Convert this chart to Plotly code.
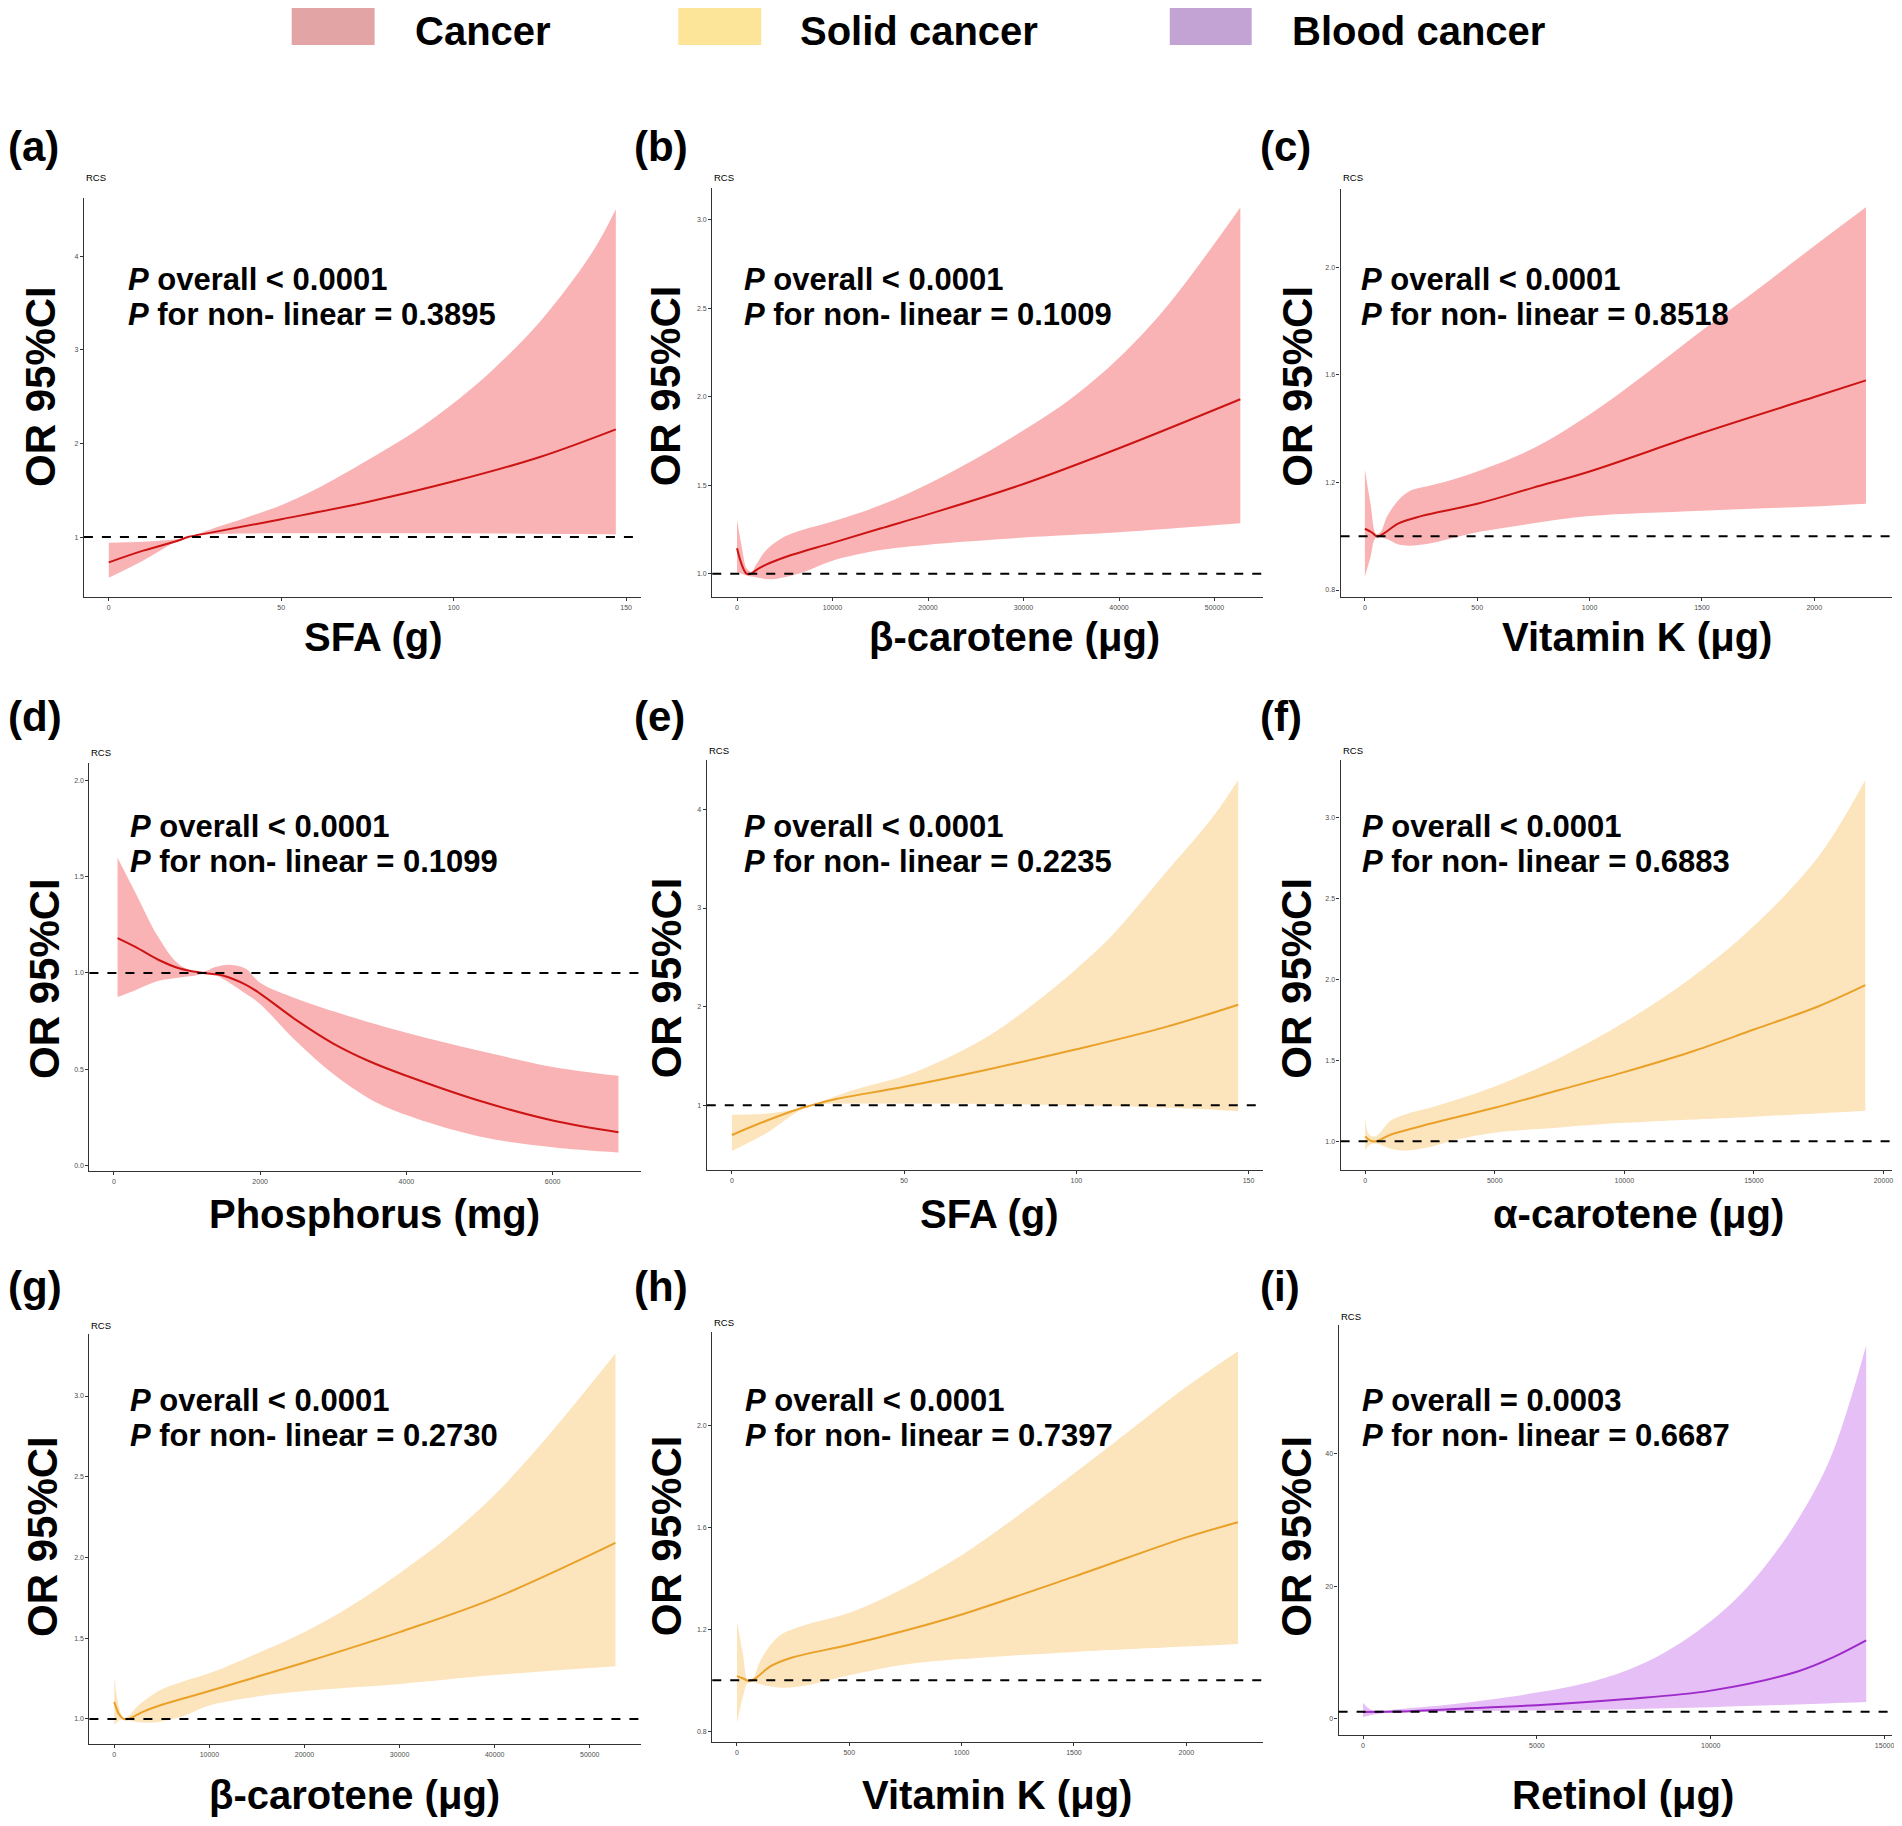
import plotly.graph_objects as go

W, H = 1902, 1826
OFF = 8  # the page body adds an 8px margin; shift the drawing back by it

# legend groups
groups = ["Cancer", "Solid cancer", "Blood cancer"]
legend_colors = ["#E3A4A6", "#FCE598", "#C3A3D4"]
band_colors = ["#F9B3B4", "#FCE4BD", "#E5BFF6"]
line_colors = ["#CC1414", "#E9A128", "#9E2BC9"]

# (a) SFA, cancer
a_x = [0, 10, 20, 23, 30, 50, 75, 100, 125, 147]
a_or = [0.73, 0.855, 0.96, 1.0, 1.05, 1.19, 1.375, 1.595, 1.855, 2.15]
a_hi_x = [0, 10, 20, 23, 30, 40, 50, 60, 75, 90, 100, 110, 125, 140, 147]
a_hi = [0.94, 0.95, 0.98, 1.0, 1.09, 1.21, 1.34, 1.51, 1.82, 2.16, 2.43, 2.74, 3.30, 4.03, 4.50]
a_lo_x = [0, 10, 20, 23, 30, 50, 100, 147]
a_lo = [0.565, 0.75, 0.96, 1.0, 1.03, 1.04, 1.04, 1.03]

# (b) beta-carotene, cancer
b_x = [0, 500, 1000, 1500, 2000, 3000, 5000, 10000, 15000, 20000, 30000, 40000, 52700]
b_or = [1.143, 1.05, 1.0, 1.0, 1.02, 1.05, 1.093, 1.174, 1.255, 1.335, 1.507, 1.709, 1.986]
b_hi_x = [0, 500, 1000, 1500, 2000, 3000, 5000, 7000, 10000, 15000, 20000, 25000, 30000, 35000, 40000, 45000, 52700]
b_hi = [1.305, 1.15, 1.03, 1.01, 1.05, 1.13, 1.21, 1.25, 1.295, 1.386, 1.507, 1.65, 1.81, 1.99, 2.22, 2.51, 3.07]
b_lo_x = [0, 500, 1000, 2000, 3000, 4000, 5000, 7000, 10000, 15000, 20000, 30000, 40000, 52700]
b_lo = [1.01, 1.0, 0.99, 0.98, 0.97, 0.97, 0.98, 1.01, 1.073, 1.133, 1.164, 1.204, 1.234, 1.285]

# (c) vitamin K, cancer
c_x = [0, 30, 55, 80, 150, 250, 500, 750, 1000, 1500, 2000, 2230]
c_or = [1.028, 1.015, 0.999, 1.008, 1.048, 1.075, 1.121, 1.181, 1.241, 1.384, 1.518, 1.58]
c_hi_x = [0, 25, 50, 70, 100, 150, 200, 250, 350, 500, 750, 1000, 1250, 1500, 1750, 2000, 2230]
c_hi = [1.248, 1.121, 1.009, 1.016, 1.075, 1.135, 1.168, 1.181, 1.201, 1.241, 1.327, 1.453, 1.605, 1.766, 1.92, 2.08, 2.224]
c_lo_x = [0, 25, 50, 100, 150, 200, 300, 400, 500, 750, 1000, 1500, 2000, 2230]
c_lo = [0.849, 0.922, 0.995, 0.989, 0.969, 0.965, 0.975, 0.995, 1.015, 1.048, 1.075, 1.095, 1.111, 1.121]

# (d) phosphorus, cancer
d_x = [50, 300, 600, 900, 1200, 1500, 1800, 2000, 2500, 3000, 3500, 4000, 5000, 6000, 6900]
d_or = [1.181, 1.134, 1.07, 1.023, 1.001, 0.986, 0.94, 0.893, 0.754, 0.634, 0.541, 0.467, 0.337, 0.235, 0.174]
d_hi_x = [50, 300, 600, 900, 1200, 1400, 1600, 1800, 2000, 2500, 3000, 4000, 5000, 6000, 6900]
d_hi = [1.598, 1.412, 1.19, 1.042, 1.006, 1.032, 1.042, 1.023, 0.949, 0.866, 0.801, 0.69, 0.597, 0.513, 0.467]
d_lo_x = [50, 300, 600, 900, 1100, 1300, 1500, 1800, 2000, 2500, 3000, 3500, 4000, 5000, 6000, 6900]
d_lo = [0.875, 0.912, 0.958, 0.977, 0.986, 1.0, 0.968, 0.893, 0.838, 0.643, 0.476, 0.347, 0.263, 0.152, 0.096, 0.069]

# (e) SFA, solid cancer
e_x = [0, 10, 20, 23, 30, 50, 75, 100, 125, 147]
e_or = [0.70, 0.844, 0.971, 1.0, 1.062, 1.188, 1.369, 1.568, 1.785, 2.02]
e_hi_x = [0, 10, 20, 25, 35, 50, 60, 75, 90, 100, 110, 125, 140, 147]
e_hi = [0.906, 0.917, 0.971, 1.025, 1.152, 1.297, 1.44, 1.713, 2.093, 2.383, 2.708, 3.32, 3.94, 4.30]
e_lo_x = [0, 10, 20, 25, 40, 75, 100, 125, 147]
e_lo = [0.537, 0.718, 0.953, 1.007, 1.018, 1.014, 1.0, 0.978, 0.942]

# (f) alpha-carotene, solid cancer
f_x = [0, 200, 400, 1000, 2500, 5000, 7500, 10000, 12500, 15000, 17500, 19300]
f_or = [1.031, 1.004, 1.0, 1.042, 1.108, 1.207, 1.317, 1.427, 1.548, 1.69, 1.834, 1.964]
f_hi_x = [0, 150, 400, 1000, 1700, 2500, 5000, 7500, 10000, 12500, 15000, 17500, 19300]
f_hi = [1.141, 1.042, 1.031, 1.13, 1.174, 1.207, 1.339, 1.515, 1.735, 1.999, 2.329, 2.76, 3.231]
f_lo_x = [0, 150, 400, 1000, 1500, 2500, 3500, 5000, 7500, 10000, 15000, 19300]
f_lo = [0.943, 0.976, 0.987, 0.954, 0.943, 0.965, 1.009, 1.053, 1.086, 1.114, 1.152, 1.189]

# (g) beta-carotene, solid cancer
g_x = [0, 500, 1000, 1500, 2000, 3000, 5000, 10000, 15000, 20000, 30000, 40000, 52700]
g_or = [1.106, 1.029, 1.0, 1.0, 1.013, 1.044, 1.088, 1.173, 1.261, 1.35, 1.538, 1.748, 2.09]
g_hi_x = [0, 500, 1000, 1500, 2000, 3000, 5000, 7000, 10000, 15000, 20000, 25000, 30000, 35000, 40000, 45000, 52700]
g_hi = [1.261, 1.073, 1.007, 1.018, 1.051, 1.106, 1.184, 1.228, 1.283, 1.405, 1.538, 1.704, 1.903, 2.124, 2.389, 2.71, 3.263]
g_lo_x = [0, 500, 1000, 2000, 3000, 4000, 5000, 7000, 10000, 15000, 20000, 30000, 40000, 52700]
g_lo = [0.962, 0.991, 0.996, 0.985, 0.978, 0.978, 0.985, 1.013, 1.084, 1.139, 1.173, 1.217, 1.272, 1.327]

# (h) vitamin K, solid cancer
h_x = [0, 30, 55, 80, 150, 250, 500, 750, 1000, 1500, 2000, 2230]
h_or = [1.016, 1.006, 0.996, 1.006, 1.055, 1.09, 1.139, 1.195, 1.258, 1.406, 1.56, 1.619]
h_hi_x = [0, 25, 50, 75, 100, 150, 200, 300, 500, 750, 1000, 1250, 1500, 1750, 2000, 2230]
h_hi = [1.23, 1.111, 0.999, 1.013, 1.069, 1.139, 1.181, 1.216, 1.265, 1.364, 1.49, 1.645, 1.81, 1.98, 2.15, 2.29]
h_lo_x = [0, 25, 50, 75, 100, 200, 300, 400, 500, 750, 1000, 1500, 2000, 2230]
h_lo = [0.831, 0.929, 0.992, 0.992, 0.985, 0.971, 0.978, 0.999, 1.02, 1.062, 1.083, 1.111, 1.132, 1.142]

# (i) retinol, blood cancer
i_x = [0, 500, 1000, 2500, 5000, 7500, 10000, 12500, 13500, 14470]
i_or = [0.97, 1.0, 1.03, 1.4, 2.0, 2.9, 4.2, 7.1, 9.2, 11.8]
i_hi_x = [0, 200, 500, 1000, 2500, 5000, 6700, 7700, 8650, 9600, 10600, 11500, 12500, 13450, 14470]
i_hi = [2.38, 1.4, 1.13, 1.4, 2.1, 3.9, 5.75, 7.5, 9.9, 13.1, 17.4, 22.6, 30.0, 39.5, 56.4]
i_lo_x = [0, 500, 1000, 2500, 5000, 7500, 10000, 12500, 14470]
i_lo = [0.2, 0.76, 0.86, 1.03, 1.2, 1.4, 1.7, 2.1, 2.47]

labels = ["(a)", "(b)", "(c)", "(d)", "(e)", "(f)", "(g)", "(h)", "(i)"]
x_titles = ["SFA (g)", "β-carotene (μg)", "Vitamin K (μg)",
            "Phosphorus (mg)", "SFA (g)", "α-carotene (μg)",
            "β-carotene (μg)", "Vitamin K (μg)", "Retinol (μg)"]
p_overall = ["&lt; 0.0001"] * 8 + ["= 0.0003"]
p_nonlinear = ["0.3895", "0.1009", "0.8518", "0.1099", "0.2235",
               "0.6883", "0.2730", "0.7397", "0.6687"]
panel_group = [0, 0, 0, 0, 1, 1, 1, 1, 2]

x_ticks = [[0, 50, 100, 150], [0, 10000, 20000, 30000, 40000, 50000],
           [0, 500, 1000, 1500, 2000], [0, 2000, 4000, 6000], [0, 50, 100, 150],
           [0, 5000, 10000, 15000, 20000], [0, 10000, 20000, 30000, 40000, 50000],
           [0, 500, 1000, 1500, 2000], [0, 5000, 10000, 15000]]
y_ticks = [[1, 2, 3, 4], [1.0, 1.5, 2.0, 2.5, 3.0], [0.8, 1.2, 1.6, 2.0],
           [0.0, 0.5, 1.0, 1.5, 2.0], [1, 2, 3, 4], [1.0, 1.5, 2.0, 2.5, 3.0],
           [1.0, 1.5, 2.0, 2.5, 3.0], [0.8, 1.2, 1.6, 2.0], [0, 20, 40]]
y_fmt = ["d", ".1f", ".1f", ".1f", "d", ".1f", ".1f", ".1f", "d"]

series = [(a_x, a_or, a_hi_x, a_hi, a_lo_x, a_lo), (b_x, b_or, b_hi_x, b_hi, b_lo_x, b_lo),
          (c_x, c_or, c_hi_x, c_hi, c_lo_x, c_lo), (d_x, d_or, d_hi_x, d_hi, d_lo_x, d_lo),
          (e_x, e_or, e_hi_x, e_hi, e_lo_x, e_lo), (f_x, f_or, f_hi_x, f_hi, f_lo_x, f_lo),
          (g_x, g_or, g_hi_x, g_hi, g_lo_x, g_lo), (h_x, h_or, h_hi_x, h_hi, h_lo_x, h_lo),
          (i_x, i_or, i_hi_x, i_hi, i_lo_x, i_lo)]

# layout in pixels of the target picture: plot box (left, right, top, bottom), axis ranges
boxes = [(84, 642, 198, 597), (713, 1264, 188, 597), (1342, 1894, 189, 597),
         (89.5, 642, 763, 1171), (707.5, 1264, 760, 1170), (1342, 1894, 760, 1170),
         (89.5, 642, 1334, 1744), (713, 1264, 1332, 1742), (1340, 1894, 1325, 1735)]
x_ranges = [(-7.2, 154.4), (-2594, 55042), (-108, 2346), (-335, 7213), (-7.3, 154.1),
            (-949, 20331), (-2616, 55420), (-110, 2340), (-703, 15213)]
y_ranges = [(0.36, 4.62), (0.868, 3.18), (0.774, 2.292), (-0.027, 2.089), (0.345, 4.50),
            (0.823, 3.354), (0.845, 3.384), (0.758, 2.365), (-2.51, 59.5)]
label_pos = [(6, 146), (633, 146), (1259, 146), (6, 716), (633, 716), (1259, 716),
             (6, 1286), (633, 1286), (1259, 1286)]
ytitle_pos = [(41, 386), (667, 386), (1299, 386), (44, 978), (667, 978), (1297, 978),
              (42, 1536), (667, 1536), (1297, 1536)]
xtitle_pos = [(374, 637), (1016, 637), (1639, 637), (375, 1214), (991, 1214), (1640, 1214),
              (355, 1795), (998, 1795), (1625, 1795)]
ptext_pos = [(126, 279), (743, 279), (1360, 279), (128, 826), (743, 826), (1361, 826),
             (128, 1400), (744, 1400), (1361, 1400)]
rcs_y = [178, 178, 178, 752, 751, 751, 1325, 1322, 1316]

FONT = "Liberation Sans, Arial, sans-serif"
FW, FH = W - OFF, H - OFF


def px(x):
    return (x - OFF) / FW


def py(y):
    return 1 - (y - OFF) / FH


fig = go.Figure()
annotations = []
shapes = []
layout_axes = {}

for k in range(9):
    sx = "" if k == 0 else str(k + 1)
    xa, ya = "x" + sx, "y" + sx
    gi = panel_group[k]
    lx, lor, hx, hi, lox, lo = series[k]

    fig.add_trace(go.Scatter(x=hx, y=hi, mode="lines", line=dict(width=0, shape="spline"),
                             xaxis=xa, yaxis=ya, showlegend=False, hoverinfo="skip"))
    fig.add_trace(go.Scatter(x=lox, y=lo, mode="lines", line=dict(width=0, shape="spline"),
                             fill="tonexty", fillcolor=band_colors[gi],
                             xaxis=xa, yaxis=ya, showlegend=False, hoverinfo="skip"))
    fig.add_trace(go.Scatter(x=lx, y=lor, mode="lines",
                             line=dict(color=line_colors[gi], width=2, shape="spline"),
                             xaxis=xa, yaxis=ya, showlegend=False))

    l, r, t, b = boxes[k]
    axis_style = dict(showgrid=False, zeroline=False, showline=True, linecolor="#333333",
                      linewidth=1.3, ticks="outside", ticklen=3, tickwidth=1, tickcolor="#333333",
                      tickfont=dict(family=FONT, size=7, color="#4D4D4D"))
    layout_axes["xaxis" + sx] = dict(domain=[px(l), px(r)], range=list(x_ranges[k]),
                                     anchor=ya, tickvals=x_ticks[k], tickformat="d", **axis_style)
    layout_axes["yaxis" + sx] = dict(domain=[py(b), py(t)], range=list(y_ranges[k]),
                                     anchor=xa, tickvals=y_ticks[k], tickformat=y_fmt[k],
                                     **axis_style)

    shapes.append(dict(type="line", xref=xa + " domain", yref=ya, x0=0, x1=1, y0=1, y1=1,
                       line=dict(color="black", width=2, dash="dash")))

    annotations.append(dict(text="<b>%s</b>" % labels[k], x=px(label_pos[k][0]), y=py(label_pos[k][1]),
                            xanchor="left", yanchor="middle", font=dict(family=FONT, size=42, color="black")))
    annotations.append(dict(text="RCS", x=px(l), y=py(rcs_y[k]), xanchor="left", yanchor="middle",
                            font=dict(family=FONT, size=9.5, color="black")))
    annotations.append(dict(text="<b>OR 95%CI</b>", textangle=-90, x=px(ytitle_pos[k][0]),
                            y=py(ytitle_pos[k][1]), xanchor="center", yanchor="middle",
                            font=dict(family=FONT, size=42, color="black")))
    annotations.append(dict(text="<b>%s</b>" % x_titles[k], x=px(xtitle_pos[k][0]),
                            y=py(xtitle_pos[k][1]), xanchor="center", yanchor="middle",
                            font=dict(family=FONT, size=40, color="black")))
    tx, ty = ptext_pos[k]
    annotations.append(dict(text="<b><i>P</i> overall %s</b>" % p_overall[k], x=px(tx), y=py(ty),
                            xanchor="left", yanchor="middle", font=dict(family=FONT, size=31, color="black")))
    annotations.append(dict(text="<b><i>P</i> for non- linear = %s</b>" % p_nonlinear[k], x=px(tx),
                            y=py(ty + 35), xanchor="left", yanchor="middle",
                            font=dict(family=FONT, size=31, color="black")))

# top legend
legend_boxes = [(292, 375), (679, 762), (1171, 1253)]
legend_text_x = [414, 800, 1292]
for gi, name in enumerate(groups):
    x0, x1 = legend_boxes[gi]
    shapes.append(dict(type="rect", xref="paper", yref="paper", x0=px(x0), x1=px(x1),
                       y0=py(45), y1=py(6), fillcolor=legend_colors[gi], line=dict(width=0)))
    annotations.append(dict(text="<b>%s</b>" % name, x=px(legend_text_x[gi]), y=py(OFF),
                            xanchor="left", yanchor="top", borderpad=0,
                            font=dict(family=FONT, size=40, color="black")))

for a in annotations:
    a.update(xref="paper", yref="paper", showarrow=False)

fig.update_layout(width=FW, height=FH, margin=dict(l=0, r=0, t=0, b=0),
                  paper_bgcolor="white", plot_bgcolor="white",
                  annotations=annotations, shapes=shapes, showlegend=False, **layout_axes)

fig.write_html("out.html")
